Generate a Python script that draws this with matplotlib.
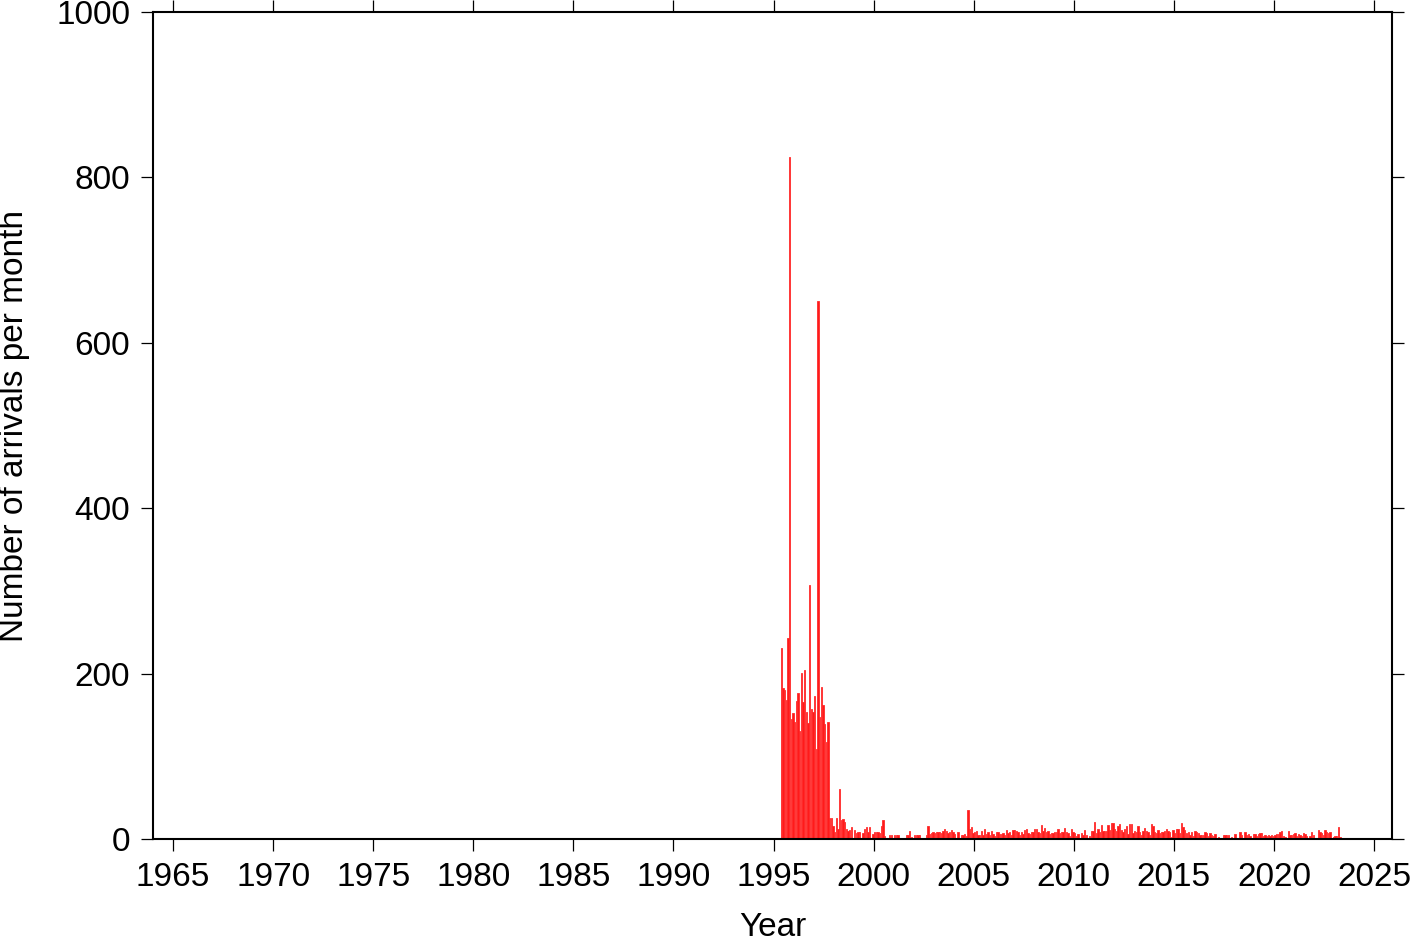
import numpy as np
import matplotlib
matplotlib.use("Agg")
import matplotlib.pyplot as plt

# Monthly arrival counts, starting May 1995
start_year = 1995
start_month = 5  # May

counts_a = [231, 183, 180, 168, 243, 825, 145, 152, 142, 167, 176, 131, 201, 166, 204,
            154, 140, 307, 157, 153, 173, 109, 651, 147, 184, 162, 139, 117, 141, 25,
            25, 16, 8, 25, 12, 61, 23, 24, 20, 12, 10]
counts_b = [11, 14, 0, 11, 7, 8, 8, 0, 7, 12, 14, 8, 14, 0, 6, 8, 9, 9, 7, 16,
            23, 4, 0, 0, 5, 5, 0, 5, 5, 5, 0, 0, 0, 0, 5, 5, 10, 3, 0, 5,
            5, 5, 5, 0, 0, 0, 5, 16, 6, 7, 8, 7, 8, 8, 8, 7, 10, 12]
counts_c = [10, 7, 8, 11, 9, 6, 0, 8, 0, 5, 5, 6, 4, 35, 12, 15, 7, 9, 10, 5,
            5, 10, 5, 12, 6, 8, 5, 10, 6, 4, 9, 8, 6, 6, 7, 5, 11, 7, 9, 5,
            11, 11, 10, 8, 5, 8, 6, 11, 12, 7, 6, 8, 8, 12, 12, 9, 7, 17, 10, 13]
counts_d = [8, 10, 6, 7, 7, 8, 8, 12, 7, 8, 9, 13, 8, 7, 4, 12, 8, 7, 4, 6,
            0, 7, 5, 11, 5, 0, 4, 10, 10, 20, 7, 12, 9, 17, 10, 10, 10, 17, 11, 19,
            19, 12, 10, 16, 18, 11, 9, 12, 16, 6, 18, 18, 7, 10, 9, 16, 9, 5, 10, 13, 10]
counts_e = [8, 5, 18, 16, 8, 7, 11, 7, 8, 8, 10, 12, 10, 8, 3, 11, 7, 12, 12, 7,
            19, 14, 11, 7, 8, 5, 8, 4, 10, 8, 7, 5, 5, 5, 9, 7, 4, 7, 5, 4,
            6, 0, 3, 0, 0, 5, 5, 5, 5, 0, 3, 0, 6, 0, 0, 9, 5, 0, 9, 5]
counts_f = [6, 4, 0, 6, 6, 4, 6, 7, 7, 4, 5, 4, 5, 4, 5, 4, 5, 6, 6, 8,
            10, 4, 3, 0, 10, 5, 5, 6, 7, 4, 6, 5, 4, 7, 6, 4, 0, 4, 9, 5,
            0, 0, 11, 8, 7, 5, 11, 8, 7, 8, 0, 3, 4, 4, 14, 3]

counts = np.array(counts_a + counts_b + counts_c + counts_d + counts_e + counts_f)
months = np.arange(len(counts))
x = start_year + (start_month - 1 + months + 0.6) / 12.0

plt.rcParams['font.family'] = ['Liberation Sans', 'DejaVu Sans']

fig = plt.figure(figsize=(14.19, 9.42), dpi=100)
ax = fig.add_axes([153/1419, 1 - 839/942, (1392-153)/1419, (839-12)/942])

ax.bar(x, counts, width=0.8/12, color='#ff1a1a', edgecolor='#ff2a2a',
       linewidth=0.6, align='center')

ax.set_xlim(1964.0, 2025.9)
ax.set_ylim(0, 1000)
ax.set_xticks(np.arange(1965, 2026, 5))
ax.set_yticks(np.arange(0, 1001, 200))

for s in ax.spines.values():
    s.set_linewidth(1.5)
    s.set_color('black')

ax.tick_params(axis='both', which='major', direction='out', length=8.5, width=0.9,
               labelsize=24, top=True, right=True)
ax.tick_params(axis='x', pad=8)
ax.tick_params(axis='y', pad=8)
ax.set_xlabel('Year', fontsize=24, labelpad=14)
ax.set_ylabel('Number of arrivals per month', fontsize=24, labelpad=19)

fig.savefig('out.png', dpi=100)
